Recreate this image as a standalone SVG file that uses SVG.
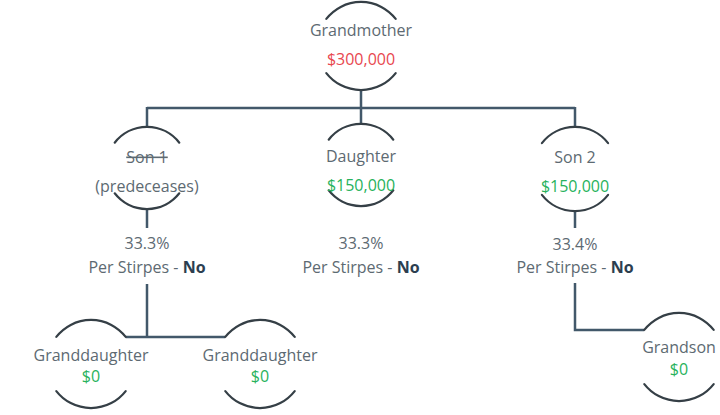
<svg xmlns="http://www.w3.org/2000/svg" width="720" height="415" viewBox="0 0 720 415">
<style>
.bg{fill:#ffffff}
.arc{fill:none;stroke:#353f46;stroke-width:2.2;stroke-linecap:round}
.con{fill:none;stroke:#42586a;stroke-width:2.5}
text{font-family:"Open Sans","Liberation Sans",sans-serif;font-size:16px;text-anchor:middle;fill:#5d6a72}
.red{fill:#e8474f}
.green{fill:#27b25c}
.b{font-weight:bold;fill:#2c3e50}
</style>
<rect class="bg" x="0" y="0" width="720" height="415"/>
<g id="connectors">
<path class="con" d="M361,90 V108 M147,108 H575 M147,107 V127 M361,107 V124 M575,107 V127"/>
<path class="con" d="M147,209 V228 M575,211 V228"/>
<path class="con" d="M147,284 V337 M125.7,337 H225.3"/>
<path class="con" d="M575,283 V330 H644.3"/>
</g>
<g id="grandmother">
<path class="arc" d="M326.3,18.9 A44,44 0 0 1 395.7,18.9 M326.3,73.1 A44,44 0 0 0 395.7,73.1"/>
<text x="361" y="36">Grandmother</text>
<text x="361" y="65" class="red">$300,000</text>
</g>
<g id="son1">
<path class="arc" d="M114.7,142.7 A41,41 0 0 1 179.3,142.7 M114.7,193.3 A41,41 0 0 0 179.3,193.3"/>
<text x="147" y="163" text-decoration="line-through">Son 1</text>
<text x="147" y="192">(predeceases)</text>
<text x="147" y="249">33.3%</text>
<text x="147" y="273">Per Stirpes - <tspan class="b">No</tspan></text>
</g>
<g id="daughter">
<path class="arc" d="M328.7,139.7 A41,41 0 0 1 393.3,139.7 M328.7,190.3 A41,41 0 0 0 393.3,190.3"/>
<text x="361" y="162">Daughter</text>
<text x="361" y="191" class="green">$150,000</text>
<text x="361" y="249">33.3%</text>
<text x="361" y="273">Per Stirpes - <tspan class="b">No</tspan></text>
</g>
<g id="son2">
<path class="arc" d="M541.9,143.1 A42,42 0 0 1 608.1,143.1 M541.9,194.9 A42,42 0 0 0 608.1,194.9"/>
<text x="575" y="163">Son 2</text>
<text x="575" y="192" class="green">$150,000</text>
<text x="575" y="250">33.4%</text>
<text x="575" y="273">Per Stirpes - <tspan class="b">No</tspan></text>
</g>
<g id="granddaughter1">
<path class="arc" d="M56.3,336.9 A44,44 0 0 1 125.7,336.9 M56.3,391.1 A44,44 0 0 0 125.7,391.1"/>
<text x="91" y="361">Granddaughter</text>
<text x="91" y="382" class="green">$0</text>
</g>
<g id="granddaughter2">
<path class="arc" d="M225.3,336.9 A44,44 0 0 1 294.7,336.9 M225.3,391.1 A44,44 0 0 0 294.7,391.1"/>
<text x="260" y="361">Granddaughter</text>
<text x="260" y="382" class="green">$0</text>
</g>
<g id="grandson">
<path class="arc" d="M644.3,329.9 A44,44 0 0 1 713.7,329.9 M644.3,384.1 A44,44 0 0 0 713.7,384.1"/>
<text x="679" y="353">Grandson</text>
<text x="679" y="375" class="green">$0</text>
</g>
</svg>
